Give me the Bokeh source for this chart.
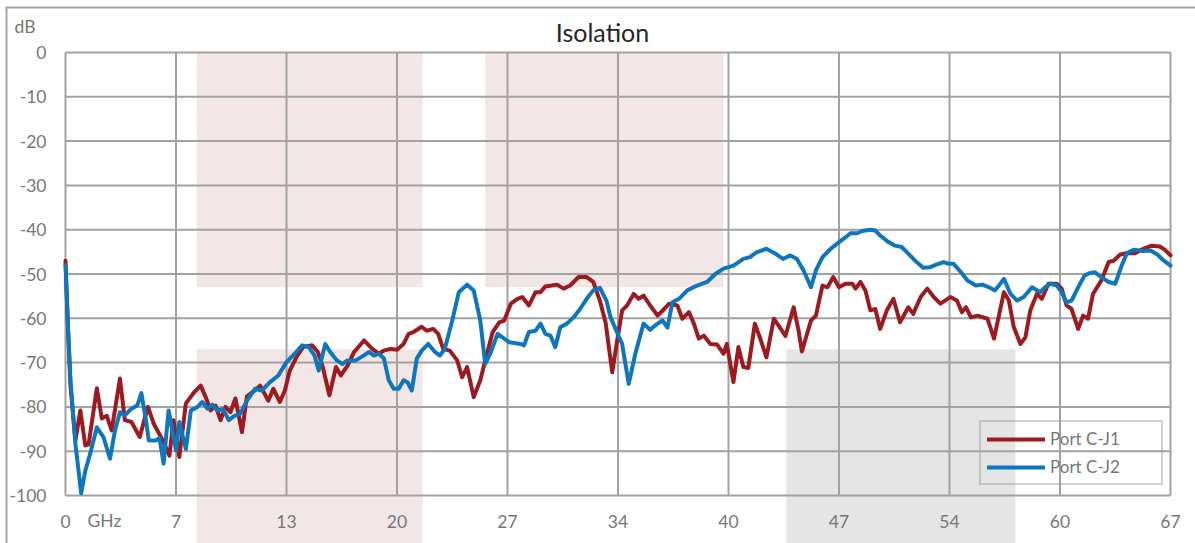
from bokeh.plotting import figure
from bokeh.models import Range1d, FixedTicker, LinearAxis, Legend, LegendItem, Label
from bokeh.embed import file_html
from bokeh.resources import INLINE

# ---------------- data ----------------
title_text = "Isolation"
y_unit = "dB"
x_unit = "GHz"
series_names = ["Port C-J1", "Port C-J2"]

x_ticks = [0.0, 6.7, 13.4, 20.1, 26.8, 33.5, 40.2, 46.9, 53.6, 60.3, 67.0]
x_tick_labels = ["0", "7", "13", "20", "27", "34", "40", "47", "54", "60", "67"]
y_ticks = [0, -10, -20, -30, -40, -50, -60, -70, -80, -90, -100]
y_tick_labels = ["0", "-10", "-20", "-30", "-40", "-50", "-60", "-70", "-80", "-90", "-100"]

# shaded bands (GHz / dB); None bottom = down to the chart bottom
band_left = [7.95, 25.45, 7.95, 43.7]
band_right = [21.65, 39.9, 21.65, 57.6]
band_top = [0, 0, -67, -67]
band_bottom = [-53, -53, None, None]
band_kind = ["pink", "pink", "pink", "gray"]

j1_ghz = [0.0, 0.15, 0.3, 0.6, 0.9, 1.2, 1.4, 1.9, 2.2, 2.5, 2.8, 3.3, 3.6, 4.0, 4.5, 5.0,
          5.35, 5.9, 6.3, 6.55, 6.9, 7.3, 7.8, 8.2, 8.5, 8.8, 9.1, 9.4, 9.7, 10.0, 10.3, 10.7,
          11.0, 11.4, 11.8, 12.3, 12.6, 13.0, 13.3, 13.6, 14.0, 14.4, 14.95, 15.3, 15.6, 16.0,
          16.4, 16.7, 17.1, 17.5, 18.1, 18.6, 19.0, 19.3, 19.7, 20.1, 20.5, 20.8, 21.1, 21.6,
          21.9, 22.3, 22.6, 22.9, 23.3, 23.75, 24.05, 24.35, 24.75, 25.15, 25.5, 25.9, 26.3,
          26.6, 27.0, 27.4, 27.7, 28.1, 28.5, 28.8, 29.1, 29.5, 29.8, 30.2, 30.6, 31.1, 31.6,
          32.0, 32.4, 32.75, 33.15, 33.45, 33.75, 34.05, 34.45, 34.75, 35.05, 35.45, 35.9,
          36.3, 36.6, 37.1, 37.4, 37.8, 38.1, 38.4, 38.7, 39.1, 39.5, 39.9, 40.1, 40.5, 40.8,
          41.1, 41.4, 41.8, 42.1, 42.5, 42.95, 43.3, 43.65, 44.15, 44.45, 44.65, 45.2, 45.5,
          45.9, 46.2, 46.55, 46.9, 47.3, 47.7, 47.9, 48.2, 48.5, 48.8, 49.1, 49.4, 49.8, 50.2,
          50.6, 51.1, 51.4, 51.85, 52.25, 52.65, 53.05, 53.65, 54.05, 54.35, 54.6, 54.9, 55.3,
          55.9, 56.3, 56.9, 57.2, 57.5, 57.9, 58.2, 58.5, 58.9, 59.2, 59.6, 60.1, 60.4, 60.7,
          61.0, 61.4, 61.7, 62.0, 62.3, 62.8, 63.25, 63.55, 63.95, 64.35, 64.85, 65.35, 65.85,
          66.35, 66.65, 67.0]
j1_db = [-47, -62, -75, -87.6, -80.8, -88.7, -88.5, -75.8, -82.6, -82, -85.3, -73.6, -83, -83.4,
         -86.8, -80, -83.8, -87.6, -91, -83, -91.3, -79.2, -76.7, -75.2, -77.8, -80.8, -79.7, -83,
         -80, -81.2, -78.1, -85.7, -77.6, -76.5, -75.2, -78.6, -75.9, -78.9, -76.3, -71.8, -68.8,
         -66.5, -66.1, -67.6, -71, -77.4, -71, -72.9, -70.7, -67.6, -65, -66.9, -68, -67.3, -66.9,
         -67.1, -65.8, -63.5, -63.1, -61.9, -62.8, -62.4, -63.5, -66.9, -67.3, -69.5, -73.3, -71,
         -77.8, -74, -68.8, -63.1, -60.9, -60.5, -56.7, -55.6, -55.2, -57.1, -54.1, -54.1, -52.8,
         -52.6, -52.4, -53.3, -52.6, -50.7, -50.7, -51.8, -56, -61, -72.2, -65, -58.2, -57.1,
         -54.5, -55.6, -54.9, -57.1, -59.4, -57.9, -56.7, -57.1, -60.1, -58.6, -61.2, -64.6,
         -63.9, -65.8, -65.9, -68, -65.8, -74.4, -66.5, -71, -71.2, -61.2, -64.3, -68.8, -60.1,
         -62, -64, -57.5, -62.8, -67.5, -60.5, -59.4, -52.6, -53, -50.7, -53, -52.2, -52.2, -53.3,
         -51.8, -53.7, -58.2, -57.9, -62.4, -58.2, -55.6, -60.9, -57.5, -59, -55.2, -53.3, -55.2,
         -56.7, -55.2, -56, -58.6, -57.5, -59.8, -59.4, -60.1, -64.6, -54.1, -56, -62, -65.8,
         -64.3, -58.2, -54.5, -55.6, -52.2, -52.2, -53.3, -57.1, -57.9, -62.4, -59.4, -60.1,
         -54.5, -51.5, -47.3, -47, -45.6, -45.3, -45.3, -44.3, -43.6, -43.8, -44.5, -45.8]

j2_ghz = [0.0, 0.15, 0.3, 0.6, 0.95, 1.2, 1.5, 1.9, 2.3, 2.7, 3.0, 3.3, 3.6, 4.0, 4.35, 4.6,
          4.85, 5.05, 5.45, 5.7, 5.95, 6.25, 6.7, 6.9, 7.3, 7.6, 8.0, 8.3, 8.6, 8.9, 9.2, 9.55,
          9.9, 10.25, 10.6, 11.0, 11.5, 11.9, 12.4, 12.9, 13.4, 13.9, 14.35, 14.75, 15.1, 15.35,
          15.75, 16.05, 16.45, 16.8, 17.1, 17.6, 18.0, 18.4, 18.7, 19.0, 19.3, 19.6, 19.9, 20.2,
          20.5, 20.75, 21.0, 21.3, 21.6, 22.0, 22.4, 22.7, 23.0, 23.45, 23.85, 24.35, 24.75,
          25.15, 25.45, 25.75, 26.2, 26.6, 26.9, 27.6, 27.8, 28.1, 28.5, 28.8, 29.1, 29.4, 29.7,
          30.0, 30.4, 30.8, 31.2, 31.6, 32.0, 32.4, 32.8, 33.05, 33.75, 34.15, 34.55, 35.05,
          35.45, 35.75, 36.2, 36.5, 36.8, 37.2, 37.7, 38.3, 38.9, 39.4, 39.9, 40.5, 41.1, 41.5,
          41.9, 42.5, 43.0, 43.5, 43.95, 44.35, 44.75, 45.2, 45.5, 45.9, 46.4, 46.9, 47.3, 47.6,
          48.0, 48.3, 48.8, 49.1, 49.4, 49.9, 50.3, 50.7, 51.1, 51.6, 52.0, 52.4, 52.8, 53.25,
          53.55, 53.85, 54.3, 54.7, 55.2, 55.6, 56.0, 56.35, 56.6, 56.9, 57.3, 57.7, 58.1, 58.6,
          59.1, 59.4, 59.7, 60.1, 60.4, 60.7, 61.0, 61.4, 61.8, 62.1, 62.4, 62.8, 63.25, 63.65,
          64.0, 64.35, 64.8, 65.3, 65.8, 66.2, 66.6, 67.0]
j2_db = [-48, -62, -74, -88.3, -99.5, -94.4, -90.5, -84.6, -86.8, -91.7, -85.3, -81.2, -81.9,
         -80.4, -79.7, -76.9, -82.3, -87.6, -87.6, -87, -92.8, -80.8, -89.8, -83.4, -89.5, -80.8,
         -80, -78.9, -80.4, -79.5, -80.8, -80.5, -83, -82, -81.5, -78.6, -75.9, -76.3, -74.4,
         -72.9, -69.9, -68, -66.1, -66.5, -68.4, -71.8, -65.8, -67.6, -69.5, -70.3, -69.5, -69.5,
         -68.6, -67.6, -68.4, -68, -69, -74, -75.9, -75.9, -74, -74.5, -76.3, -69.1, -67.3, -65.8,
         -67.6, -68.4, -66.9, -60.5, -54.1, -52.4, -53.7, -60.5, -70.3, -68, -63.5, -64.6, -65.4,
         -65.8, -66.1, -63.1, -62.8, -61.2, -63.5, -63.9, -66.5, -62, -61.2, -59.8, -57.9, -55.6,
         -53.7, -53.1, -56, -59.8, -65.8, -74.8, -68, -61.2, -62.6, -61.6, -60.5, -62.1, -56.4,
         -55.6, -53.7, -52.6, -51.8, -50, -48.8, -48.1, -46.6, -46.2, -45.1, -44.3, -45.3, -46.6,
         -45.8, -46.6, -49.2, -53, -49.2, -46.2, -44.3, -42.8, -41.7, -40.8, -40.8, -40.3, -40,
         -40.2, -41.3, -42.8, -43.6, -43.9, -45.4, -47.3, -48.6, -48.5, -47.9, -47.3, -47.7,
         -47.7, -49.6, -51.5, -52.6, -52.4, -53, -53.7, -52.6, -51.1, -54.5, -56, -55.2, -53,
         -54.1, -53, -52.2, -52.6, -54.1, -56.4, -56, -53, -50.3, -49.8, -49.6, -50.7, -51.8,
         -52.2, -48.5, -45.3, -44.5, -44.8, -44.7, -45.6, -47, -48.1]

# ---------------- layout (canvas pixels) ----------------
W, H = 1195, 543
PLOT_L, PLOT_R = 65, 1170      # x of first / last x tick
PLOT_T, PLOT_B = 52, 495       # y of top / bottom y tick

xmin, xmax = min(x_ticks), max(x_ticks)
ymin, ymax = min(y_ticks), max(y_ticks)
kx = (xmax - xmin) / (PLOT_R - PLOT_L)
ky = (ymax - ymin) / (PLOT_B - PLOT_T)


def px_x(px):
    return xmin + (px - PLOT_L) * kx


def px_y(py):
    return ymax - (py - PLOT_T) * ky


FONT = "Lato"
RED = "#9C1B20"
BLUE = "#0E76BD"
GRID = "#A2A2A2"
TXT = "#777777"
BAND_COLORS = {"pink": "#F2E6E7", "gray": "#E5E5E5"}

y_floor = px_y(H)
p = figure(width=W, height=H, output_backend="svg", toolbar_location=None,
           x_range=Range1d(px_x(0), px_x(W)), y_range=Range1d(y_floor, px_y(0)),
           x_axis_location=None, y_axis_location=None, title_location=None,
           min_border=0)
p.outline_line_color = None
p.xgrid.visible = False
p.ygrid.visible = False
p.background_fill_color = "white"
p.border_fill_color = "white"

# chart-area border (top and left edges)
p.segment(x0=[px_x(5), px_x(6)], y0=[px_y(7), px_y(7)],
          x1=[px_x(W), px_x(6)], y1=[px_y(7), px_y(H)],
          line_color="#A6A6A6", line_width=2)

# bands
p.quad(left=band_left, right=band_right, top=band_top,
       bottom=[b if b is not None else y_floor for b in band_bottom],
       fill_color=[BAND_COLORS[k] for k in band_kind], line_color=None)

# grid / plot-area box
p.segment(x0=x_ticks, y0=[ymin] * len(x_ticks), x1=x_ticks, y1=[ymax] * len(x_ticks),
          line_color=GRID, line_width=2)
p.segment(x0=[xmin] * len(y_ticks), y0=y_ticks, x1=[xmax] * len(y_ticks), y1=y_ticks,
          line_color=GRID, line_width=2)

# y axis
yax = LinearAxis(fixed_location=xmin)
yax.ticker = FixedTicker(ticks=y_ticks)
yax.major_label_overrides = {t: l for t, l in zip(y_ticks, y_tick_labels)}
yax.axis_line_color = None
yax.major_tick_line_color = None
yax.minor_tick_line_color = None
yax.major_tick_out = 0
yax.major_tick_in = 0
yax.major_label_standoff = 19
yax.major_label_text_font = FONT
yax.major_label_text_font_size = "17.5px"
yax.major_label_text_color = TXT
p.add_layout(yax, "left")

# x axis
xax = LinearAxis(fixed_location=ymin)
xax.ticker = FixedTicker(ticks=x_ticks)
xax.major_label_overrides = {t: l for t, l in zip(x_ticks, x_tick_labels)}
xax.axis_line_color = None
xax.major_tick_line_color = None
xax.minor_tick_line_color = None
xax.major_tick_out = 0
xax.major_tick_in = 0
xax.major_label_standoff = 19
xax.major_label_text_font = FONT
xax.major_label_text_font_size = "17.5px"
xax.major_label_text_color = TXT
p.add_layout(xax, "below")

# series
r1 = p.line(j1_ghz, j1_db, line_color=RED, line_width=4, line_join="round", line_cap="round")
r2 = p.line(j2_ghz, j2_db, line_color=BLUE, line_width=4, line_join="round", line_cap="round")

legend = Legend(items=[LegendItem(label=series_names[0], renderers=[r1]),
                       LegendItem(label=series_names[1], renderers=[r2])],
                location=(979, 58), padding=6, margin=0, spacing=7,
                glyph_width=58, glyph_height=20, label_height=20, label_width=105,
                label_standoff=5, label_text_font=FONT, label_text_font_size="17px",
                label_text_color=TXT, border_line_color=GRID, border_line_width=2,
                background_fill_alpha=0)
p.add_layout(legend)

# texts
p.add_layout(Label(x=px_x(602), y=px_y(31), text=title_text, text_align="center",
                   text_baseline="middle", text_font=FONT, text_font_size="25px",
                   text_color="#262626"))
p.add_layout(Label(x=px_x(14), y=px_y(26), text=y_unit, text_align="left",
                   text_baseline="middle", text_font=FONT, text_font_size="17.5px",
                   text_color=TXT))
p.add_layout(Label(x=px_x(104), y=px_y(520), text=x_unit, text_align="center",
                   text_baseline="middle", text_font=FONT, text_font_size="17.5px",
                   text_color=TXT))

open("out.html", "w").write(file_html(p, INLINE))
